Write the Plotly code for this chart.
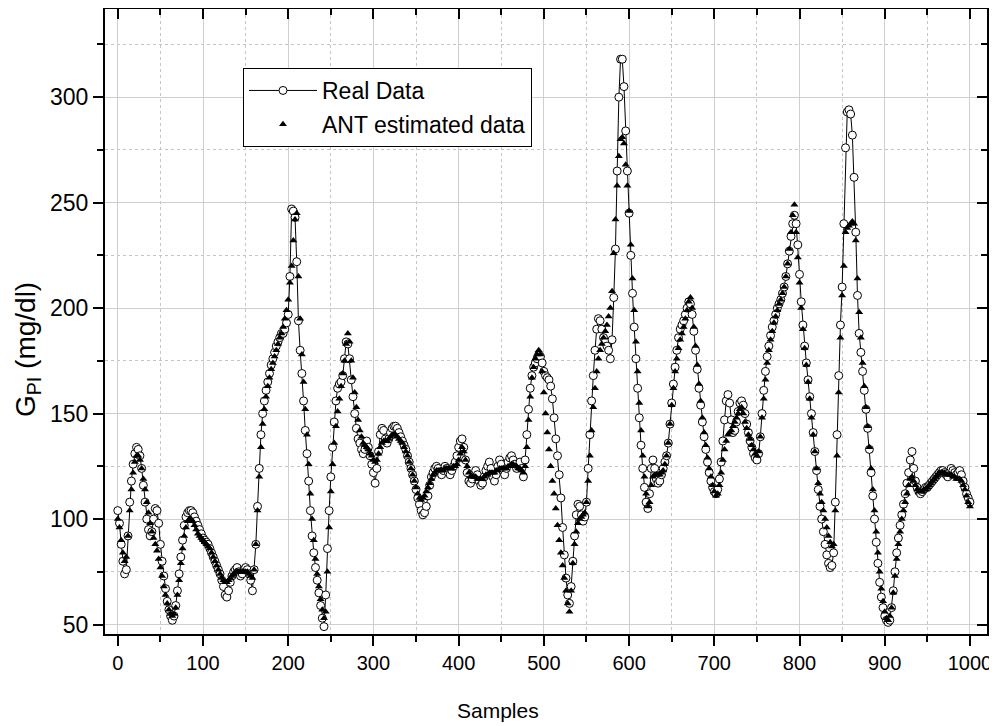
import plotly.graph_objects as go

# ---------------- data ----------------
samples = list(range(0, 1001, 2))

real_data = [
    104, 98, 88, 80, 74, 76, 92, 108, 118, 126,
    131, 134, 133, 130, 124, 116, 108, 100, 95, 92,
    94, 100, 105, 104, 98, 88, 80, 73, 67, 61,
    57, 54, 52, 54, 59, 66, 74, 82, 90, 97,
    101, 103, 104, 104, 103, 101, 99, 97, 95, 93,
    91, 90, 89, 88, 86, 84, 82, 80, 78, 76,
    74, 71, 68, 64, 63, 66, 70, 73, 75, 76,
    77, 75, 73, 74, 76, 77, 76, 74, 71, 66,
    76, 88, 106, 124, 140, 150, 156, 161, 165, 169,
    173, 176, 179, 182, 184, 186, 188, 188, 190, 193,
    197, 215, 247, 246, 243, 222, 194, 180, 169, 156,
    142, 131, 118, 104, 92, 84, 77, 71, 65, 59,
    53, 49, 64, 86, 104, 120, 134, 146, 156, 162,
    164, 165, 168, 176, 184, 183, 176, 166, 158, 150,
    143, 138, 136, 133, 131, 133, 137, 134, 130, 126,
    122, 117, 124, 132, 140, 143, 142, 138, 136, 138,
    141, 143, 144, 144, 143, 141, 139, 137, 135, 133,
    130, 127, 124, 121, 118, 114, 110, 107, 104, 102,
    103, 106, 111, 116, 120, 122, 124, 125, 124, 122,
    121, 123, 125, 124, 122, 121, 123, 125, 127, 130,
    134, 137, 138, 134, 128, 122, 118, 117, 119, 121,
    123, 121, 118, 116, 117, 120, 123, 125, 127, 124,
    120, 118, 121, 125, 128, 126, 123, 121, 124, 127,
    129, 130, 128, 126, 124, 125, 127, 124, 120, 128,
    140, 152, 162, 168, 172, 174, 176, 178, 177, 174,
    170, 168, 167, 166, 163, 157, 148, 138, 130, 121,
    110, 96, 83, 72, 64, 60, 68, 80, 92, 102,
    107, 106, 102, 99, 101, 108, 124, 140, 156, 168,
    180, 190, 195, 194, 190, 186, 184, 182, 180, 176,
    185, 205, 228, 265, 300, 318, 318, 305, 284, 265,
    245, 225, 207, 191, 176, 162, 148, 135, 124, 115,
    108, 105, 112, 124, 128, 124, 119, 117, 118, 121,
    124, 127, 130, 136, 145, 155, 164, 172, 180, 186,
    190, 192, 194, 197, 200, 203, 202, 197, 189, 180,
    171, 162, 154, 146, 139, 133, 127, 122, 118, 115,
    113, 112, 114, 119, 127, 137, 147, 156, 159, 155,
    147, 141, 142, 146, 151, 155, 156, 154, 150, 145,
    141, 137, 134, 131, 129, 128, 131, 139, 150, 161,
    170, 177, 182, 187, 191, 194, 197, 200, 202, 204,
    207, 210, 215, 221, 227, 234, 240, 244, 240, 230,
    216, 203, 192, 182, 174, 166, 158, 150, 141, 132,
    123, 114, 106, 100, 94, 88, 83, 79, 77, 78,
    84, 108, 140, 168, 192, 210, 240, 276, 293, 294,
    292, 282, 262, 236, 206, 188, 179, 170, 161, 152,
    143, 133, 122, 111, 100, 89, 79, 70, 63, 58,
    54, 52, 51, 52, 58, 66, 75, 84, 91, 97,
    102, 107, 112, 117, 122, 128, 132, 124, 118, 115,
    113, 112, 113, 114, 115, 115, 116, 117, 118, 119,
    120, 121, 122, 123, 123, 122, 121, 120, 122, 124,
    123, 122, 121, 122, 123, 121, 118, 115, 112, 110,
    108,
]

ant_data = [
    100, 96, 90, 84, 80, 82, 92, 104, 114, 122,
    127, 130, 130, 128, 124, 119, 114, 108, 103, 98,
    94, 91, 88, 85, 81, 77, 73, 68, 64, 60,
    57, 55, 54, 55, 58, 64, 71, 79, 86, 92,
    96, 99, 100, 100, 99, 97, 95, 93, 92, 91,
    90, 89, 88, 87, 86, 84, 82, 80, 78, 76,
    74, 72, 71, 70, 70, 71, 72, 73, 74, 75,
    75, 75, 75, 75, 75, 75, 75, 74, 73, 72,
    76, 88, 104, 120, 134, 145, 152, 158, 163, 167,
    171, 174, 177, 180, 183, 186, 188, 191, 195, 199,
    204, 212, 220, 232, 242, 245, 215, 195, 178, 165,
    152, 140, 126, 112, 100, 90, 81, 74, 68, 62,
    57, 53, 56, 75, 96, 113, 126, 136, 144, 151,
    157, 163, 169, 175, 183, 188, 184, 175, 167, 160,
    153, 147, 142, 139, 136, 135, 134, 133, 131, 130,
    128, 127, 128, 131, 134, 136, 137, 137, 137, 138,
    139, 140, 140, 140, 139, 138, 137, 136, 134, 132,
    130, 127, 124, 121, 118, 115, 112, 110, 109, 110,
    111, 113, 115, 117, 119, 121, 122, 123, 123, 123,
    123, 123, 124, 124, 124, 124, 124, 125, 125, 126,
    128, 131, 134, 132, 128, 125, 122, 120, 120, 120,
    120, 119, 119, 119, 119, 120, 121, 121, 122, 122,
    122, 122, 123, 123, 124, 124, 124, 124, 124, 125,
    125, 126, 126, 125, 125, 124, 124, 123, 122, 125,
    134, 147, 158, 167, 172, 176, 178, 180, 178, 170,
    160, 150, 141, 133, 125, 118, 112, 105, 97, 90,
    84, 78, 72, 66, 60, 56, 66, 79, 88, 94,
    98, 100, 101, 102, 103, 108, 118, 130, 142, 153,
    162, 170, 176, 180, 183, 186, 189, 192, 196, 200,
    208, 226, 242, 258, 272, 280, 281, 278, 268, 258,
    246, 230, 214, 199, 184, 170, 155, 142, 130, 120,
    112, 106, 108, 116, 120, 121, 121, 121, 121, 122,
    123, 126, 130, 136, 145, 154, 162, 170, 176, 181,
    185, 188, 191, 195, 199, 203, 205, 200, 191, 182,
    173, 164, 156, 148, 141, 135, 129, 124, 120, 116,
    113, 111, 112, 116, 122, 128, 133, 137, 140, 141,
    142, 144, 146, 148, 150, 152, 153, 150, 146, 143,
    140, 138, 135, 133, 131, 130, 132, 139, 148, 157,
    166, 174, 180, 185, 189, 193, 196, 199, 202, 204,
    207, 210, 215, 221, 228, 236, 244, 249, 236, 224,
    212, 200, 190, 181, 173, 165, 157, 148, 140, 132,
    124, 117, 112, 108, 104, 100, 96, 92, 89, 87,
    88, 104, 130, 160, 186, 206, 220, 236, 238, 239,
    240, 241, 240, 232, 214, 198, 186, 174, 163, 153,
    144, 134, 124, 114, 104, 94, 84, 75, 67, 61,
    56, 53, 52, 54, 58, 65, 73, 81, 88, 94,
    100, 104, 108, 112, 116, 119, 120, 118, 116, 114,
    113, 113, 113, 114, 114, 115, 116, 117, 118, 119,
    120, 121, 122, 122, 122, 122, 121, 121, 121, 121,
    120, 120, 119, 119, 119, 118, 116, 114, 111, 108,
    106,
]

x_ticks = [0, 100, 200, 300, 400, 500, 600, 700, 800, 900, 1000]
y_ticks = [50, 100, 150, 200, 250, 300]

X_RANGE = [-15, 1020]
Y_RANGE = [45.5, 341.8]

FONT = "Liberation Sans, Arial, sans-serif"

# The page body has an 8px default margin, so the figure is sized and
# its margins set such that the plot area lands at page x 105..987, y 9..634.
FIG_W, FIG_H = 989, 718
M_L, M_R, M_T, M_B = 97, 10, 1, 92
PLOT_L, PLOT_T, PLOT_W, PLOT_H = 105, 9, 882, 625


def px_x(px):
    return (px - PLOT_L) / PLOT_W


def px_y(py):
    return (PLOT_T + PLOT_H - py) / PLOT_H


fig = go.Figure()

fig.add_trace(go.Scatter(
    x=samples, y=real_data, name="Real Data", legendgroup="real",
    mode="lines+markers",
    line=dict(color="black", width=1),
    marker=dict(symbol="circle", size=8, color="white",
                line=dict(color="black", width=1)),
))
fig.add_trace(go.Scatter(
    x=samples, y=ant_data, name="ANT estimated data", legendgroup="ant",
    mode="markers",
    marker=dict(symbol="triangle-up", size=7, color="black",
                line=dict(width=0)),
))
# empty trace so the mirrored (inside-tick) axes are instantiated
fig.add_trace(go.Scatter(x=[], y=[], xaxis="x2", yaxis="y2",
                         showlegend=False, hoverinfo="skip"))

grid_major = "#cfcfcf"
grid_minor = "#c4c4c4"

fig.update_layout(
    width=FIG_W, height=FIG_H,
    margin=dict(l=M_L, r=M_R, t=M_T, b=M_B, autoexpand=False),
    paper_bgcolor="white", plot_bgcolor="white",
    font=dict(family=FONT, color="black"),
    showlegend=True,
    legend=dict(
        x=px_x(243), y=px_y(68),
        xanchor="left", yanchor="top",
        bgcolor="white", bordercolor="black", borderwidth=1,
        font=dict(family=FONT, size=23, color="black"),
        itemwidth=68, tracegroupgap=1,
    ),
    xaxis=dict(
        range=X_RANGE, tickmode="array", tickvals=x_ticks,
        ticktext=[str(v) for v in x_ticks],
        ticks="outside", ticklen=10, tickwidth=1.5, tickcolor="black",
        showline=True, linewidth=2, linecolor="black",
        showgrid=True, gridcolor=grid_major, gridwidth=1,
        zeroline=False,
        tickfont=dict(family=FONT, size=20, color="black"),
        minor=dict(tickmode="linear", tick0=0, dtick=50, ticks="outside",
                   ticklen=6, tickwidth=1.5, tickcolor="black",
                   showgrid=True, gridcolor=grid_minor, griddash="dot",
                   gridwidth=1),
    ),
    yaxis=dict(
        range=Y_RANGE, tickmode="array", tickvals=y_ticks,
        ticktext=[str(v) for v in y_ticks],
        ticks="outside", ticklen=10, tickwidth=1.5, tickcolor="black",
        showline=True, linewidth=2, linecolor="black",
        showgrid=True, gridcolor=grid_major, gridwidth=1,
        zeroline=False,
        tickfont=dict(family=FONT, size=23, color="black"),
        minor=dict(tickmode="linear", tick0=0, dtick=25, ticks="outside",
                   ticklen=6, tickwidth=1.5, tickcolor="black",
                   showgrid=True, gridcolor=grid_minor, griddash="dot",
                   gridwidth=1),
    ),
    xaxis2=dict(
        overlaying="x", side="top", anchor="y2", range=X_RANGE,
        tickmode="array", tickvals=x_ticks, showticklabels=False,
        ticks="inside", ticklen=10, tickwidth=1.5, tickcolor="black",
        showline=True, linewidth=2, linecolor="black",
        showgrid=False, zeroline=False,
        minor=dict(tickmode="linear", tick0=0, dtick=50, ticks="inside",
                   ticklen=6, tickwidth=1.5, tickcolor="black",
                   showgrid=False),
    ),
    yaxis2=dict(
        overlaying="y", side="right", anchor="x2", range=Y_RANGE,
        tickmode="array", tickvals=y_ticks, showticklabels=False,
        ticks="inside", ticklen=10, tickwidth=1.5, tickcolor="black",
        showline=True, linewidth=2, linecolor="black",
        showgrid=False, zeroline=False,
        minor=dict(tickmode="linear", tick0=0, dtick=25, ticks="inside",
                   ticklen=6, tickwidth=1.5, tickcolor="black",
                   showgrid=False),
    ),
    annotations=[
        dict(text="Samples", xref="paper", yref="paper",
             x=px_x(498), y=px_y(710),
             xanchor="center", yanchor="middle", showarrow=False,
             font=dict(family=FONT, size=21, color="black")),
        dict(text="G<sub>PI</sub> (mg/dl)", xref="paper", yref="paper",
             x=px_x(27), y=px_y(350), textangle=-90,
             xanchor="center", yanchor="middle", showarrow=False,
             font=dict(family=FONT, size=28, color="black")),
    ],
)

fig.write_html("out.html")
